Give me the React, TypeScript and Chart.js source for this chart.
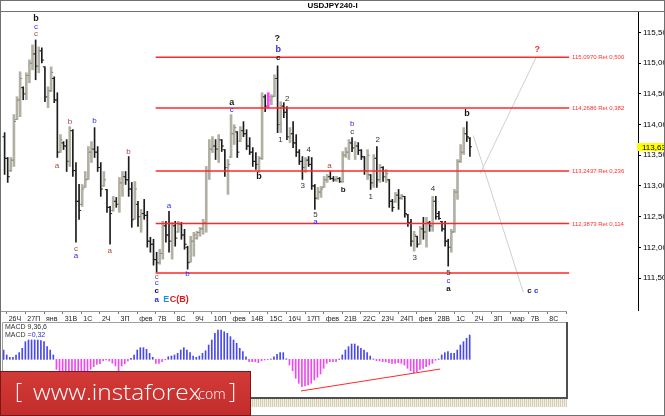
import React, { useEffect, useRef } from 'react';
import { Chart, registerables } from 'chart.js';
Chart.register(...registerables);

const FONT = '"Liberation Sans", "DejaVu Sans", Arial, sans-serif';

// ---- price bars (4h), one entry per bar index k ----
const highs = [
  113.868,113.463,113.463,114.161,114.453,114.859,114.615,114.843,115.054,115.297,
  115.378,115.265,115.248,114.940,114.615,114.940,114.778,114.518,113.836,113.722,
  113.755,113.966,113.917,113.381,113.024,113.024,113.235,113.641,113.722,113.950,
  113.641,113.381,113.235,112.943,112.667,112.830,112.813,113.138,113.235,113.235,
  113.479,113.057,113.073,112.748,112.618,112.781,112.586,112.164,112.131,111.920,
  111.969,112.424,112.424,112.586,112.407,112.424,112.424,112.407,112.294,112.018,
  112.180,112.245,112.261,112.326,112.456,113.317,113.755,113.803,113.755,113.836,
  113.755,113.592,113.430,114.161,113.998,113.885,113.966,114.047,113.917,113.787,
  113.625,113.544,113.479,114.518,114.485,114.518,114.485,114.810,114.956,114.372,
  114.356,114.291,113.950,114.047,113.836,113.592,113.479,113.463,113.479,113.463,
  113.024,112.976,112.992,113.154,113.187,113.235,113.154,113.154,113.138,113.560,
  113.625,113.755,113.787,113.722,113.706,113.592,113.479,113.592,113.187,113.511,
  113.641,113.349,113.317,113.268,113.105,112.781,112.894,112.943,112.862,112.830,
  112.537,112.456,112.261,112.180,112.342,112.489,112.489,112.424,112.830,112.830,
  112.586,112.424,112.424,112.131,112.294,112.943,113.430,113.674,113.950,114.047,
  113.787];
const lows = [
  113.187,113.057,113.235,113.317,114.080,114.128,114.404,114.404,114.680,114.891,
  114.729,114.843,115.005,114.372,114.274,114.534,114.356,113.463,113.544,113.592,
  113.235,113.317,113.154,112.083,112.456,112.667,112.976,113.105,113.381,113.463,
  113.235,112.830,112.992,112.570,112.050,112.586,112.651,112.570,112.830,113.024,
  112.830,112.326,112.456,112.342,112.245,112.456,112.002,111.920,111.709,111.596,
  111.725,111.807,112.083,111.920,111.807,112.018,112.245,112.131,111.969,111.644,
  111.758,111.855,112.131,112.180,112.213,112.245,113.105,113.544,113.430,113.381,
  113.560,113.154,112.862,113.463,113.674,113.463,113.722,113.803,113.592,113.511,
  113.317,113.268,113.219,113.430,114.209,114.274,114.323,114.453,113.868,113.868,
  114.112,113.755,113.706,113.625,113.479,113.349,113.105,113.219,113.317,112.943,
  112.618,112.781,112.813,112.976,113.057,113.105,113.073,113.073,113.057,113.057,
  113.463,113.430,113.560,113.430,113.511,113.430,113.187,113.105,112.943,112.976,
  112.976,113.057,113.073,113.057,112.651,112.586,112.732,112.618,112.781,112.489,
  112.342,112.018,111.937,112.002,112.050,112.131,112.002,112.261,112.261,112.456,
  112.456,112.261,112.018,111.693,111.920,112.245,112.781,113.381,113.511,113.722,
  113.479];
const opens = [
  113.80,113.45,113.25,113.42,114.08,114.40,114.60,114.50,114.80,115.00,
  115.15,114.95,115.20,114.94,114.45,114.55,114.75,114.40,113.55,113.70,
  113.65,113.40,113.90,113.25,112.75,112.70,112.98,113.11,113.55,113.60,
  113.55,113.30,113.00,112.94,112.65,112.60,112.75,112.70,113.05,113.15,
  113.10,112.95,112.46,112.70,112.50,112.55,112.52,112.10,112.05,111.80,
  111.75,111.90,112.35,112.20,112.10,112.35,112.25,112.38,112.20,112.00,
  111.76,112.10,112.15,112.24,112.30,112.40,113.25,113.60,113.65,113.60,
  113.75,113.59,113.30,113.47,113.85,113.88,113.73,113.90,113.85,113.65,
  113.55,113.40,113.35,113.45,114.45,114.30,114.40,114.46,114.75,114.00,
  114.30,114.20,113.80,113.85,113.70,113.55,113.40,113.30,113.42,113.35,
  113.00,112.80,112.90,112.98,113.10,113.15,113.12,113.10,113.12,113.07,
  113.50,113.55,113.70,113.62,113.65,113.58,113.47,113.25,113.18,113.05,
  113.45,113.10,113.30,113.15,113.10,112.75,112.74,112.85,112.80,112.83,
  112.53,112.40,112.10,112.18,112.05,112.30,112.25,112.40,112.35,112.75,
  112.55,112.42,112.30,112.10,112.00,112.25,112.90,113.40,113.55,113.85,
  113.78];
const closes = [
  113.45,113.15,113.42,114.05,114.40,114.75,114.50,114.80,115.00,115.15,
  114.95,115.20,115.05,114.45,114.55,114.85,114.40,113.55,113.75,113.65,
  113.40,113.90,113.25,112.75,112.60,112.95,113.10,113.55,113.60,113.55,
  113.30,112.95,113.10,112.65,112.55,112.75,112.70,113.05,113.15,113.10,
  112.95,112.45,112.95,112.50,112.55,112.52,112.10,112.05,111.80,111.75,
  111.90,112.35,112.20,112.10,112.35,112.15,112.38,112.20,112.05,111.75,
  112.10,112.20,112.24,112.30,112.40,113.25,113.60,113.65,113.60,113.75,
  113.65,113.30,113.35,113.85,113.95,113.55,113.90,113.85,113.65,113.55,
  113.40,113.35,113.45,114.45,114.30,114.45,114.45,114.75,114.00,114.30,
  114.20,113.80,113.85,113.70,113.55,113.40,113.30,113.42,113.35,113.00,
  112.80,112.90,112.95,113.10,113.15,113.12,113.10,113.12,113.07,113.50,
  113.55,113.70,113.62,113.65,113.58,113.48,113.25,113.50,113.05,113.45,
  113.10,113.30,113.15,113.20,112.75,112.65,112.85,112.80,112.83,112.55,
  112.40,112.10,112.20,112.05,112.30,112.25,112.40,112.35,112.75,112.50,
  112.47,112.30,112.10,112.00,112.25,112.90,113.40,113.55,113.85,113.80,
  113.638];
const highlightBar = 85;
const lastPrice = 113.638;

// ---- MACD histogram, one value per bar ----
const macdHist = [
  0.122,0.057,0.026,0.026,0.057,0.087,0.145,0.232,0.254,0.254,
  0.254,0.254,0.245,0.232,0.166,0.122,0.057,-0.132,-0.171,-0.211,
  -0.237,-0.263,-0.277,-0.277,-0.263,-0.237,-0.198,-0.171,-0.132,-0.097,
  -0.066,-0.058,-0.022,-0.009,-0.022,-0.051,-0.088,-0.158,-0.088,-0.058,
  -0.020,0.013,0.057,0.122,0.153,0.153,0.132,0.079,0.026,-0.053,
  -0.053,-0.032,-0.007,0.034,0.043,0.057,0.079,0.122,0.153,0.122,
  0.087,0.043,0.026,0.043,0.079,0.113,0.188,0.254,0.342,0.386,
  0.386,0.363,0.342,0.298,0.254,0.211,0.145,0.100,0.034,-0.032,
  -0.032,-0.032,-0.045,-0.018,-0.009,-0.004,0.004,0.034,0.066,0.087,
  0.087,0.007,-0.075,-0.150,-0.250,-0.316,-0.361,-0.349,-0.338,-0.316,
  -0.273,-0.237,-0.194,-0.119,-0.053,-0.032,-0.032,-0.032,0.004,0.057,
  0.122,0.166,0.201,0.201,0.175,0.145,0.122,0.087,0.043,0.004,
  -0.018,-0.022,-0.032,-0.032,-0.045,-0.053,-0.053,-0.045,-0.053,-0.075,
  -0.119,-0.150,-0.176,-0.163,-0.132,-0.119,-0.097,-0.075,-0.053,-0.013,
  0.004,0.057,0.087,0.100,0.079,0.079,0.122,0.188,0.232,0.277,
  0.320];
const macdTrend = [{ x: 95.7, y: -0.417 }, { x: 140.5, y: -0.128 }];

// ---- axes ----
const dayLabels = ['26Ч','27П','янв','31В','1С','2Ч','3П','фев','7В','8С','9Ч','10П','фев','14В','15С','16Ч','17П','фев','21В','22С','23Ч','24П','фев','28В','1С','2Ч','3П','мар','7В','8С'];
const priceTicks = [111.5, 112, 112.5, 113, 113.5, 114, 114.5, 115, 115.5];

// ---- Fibonacci retracement levels ----
const fibLevels = [115.097, 114.2686, 113.2437, 112.3873, 111.58];
const fibTexts = ['115,0970 Ret 0,500', '114,2686 Ret 0,382', '113,2437 Ret 0,236', '112,3873 Ret 0,114', ''];
const fibStartK = 48.7;
const fibEndK = 182.0;
const fibTextK = 182.9;

// ---- projected paths ----
const projDown = [{ x: 151.1, y: 113.82 }, { x: 167.2, y: 111.27 }];
const projUp = [{ x: 153.3, y: 113.2 }, { x: 171.4, y: 115.1 }];

// ---- wave labels: [k, price, text, color, size, bold, align] ----
const BLK = '#151515', BLU = '#2b2bff', BRN = '#a8463a', NUM = '#333333', RED = '#ff2a2a', CYAN = '#1c8fe0', CRED = '#e01818';
const waveLabels: [number, number, string, string, number, boolean, string][] = [
  [10.1, 115.719, 'b', BLK, 9, true, 'center'],
  [10.1, 115.594, 'c', BLU, 8, false, 'center'],
  [10.1, 115.471, 'c', BRN, 8, false, 'center'],
  [16.9, 113.333, 'a', BRN, 8, false, 'center'],
  [21.05, 114.047, 'b', BRN, 8, false, 'center'],
  [29.0, 114.063, 'b', BLU, 8, false, 'center'],
  [22.98, 111.969, 'c', BRN, 8, false, 'center'],
  [22.98, 111.856, 'a', BLU, 8, false, 'center'],
  [33.92, 111.937, 'a', BRN, 8, false, 'center'],
  [39.94, 113.560, 'b', BRN, 8, false, 'center'],
  [49.05, 111.519, 'c', BRN, 8, false, 'center'],
  [49.05, 111.417, 'c', BLU, 8, false, 'center'],
  [49.05, 111.292, 'c', BLK, 8, true, 'center'],
  [49.05, 111.146, 'a', BLU, 8, true, 'center'],
  [52.1, 111.146, 'E', CYAN, 9, true, 'center'],
  [53.2, 111.146, 'C(B)', CRED, 9, true, 'left'],
  [53.0, 112.672, 'a', BLU, 8, false, 'center'],
  [58.93, 111.563, 'b', BLU, 8, false, 'center'],
  [73.19, 114.356, 'a', BLK, 9, true, 'center'],
  [73.19, 114.242, 'c', BLU, 8, false, 'center'],
  [81.98, 113.154, 'b', BLK, 9, true, 'center'],
  [87.9, 115.406, '?', BLK, 9, true, 'center'],
  [88.22, 115.216, 'b', BLU, 9, true, 'center'],
  [88.22, 115.081, 'c', BLK, 8, true, 'center'],
  [91.12, 114.416, '2', NUM, 8, false, 'center'],
  [88.96, 113.755, '1', NUM, 8, false, 'center'],
  [96.14, 112.997, '3', NUM, 8, false, 'center'],
  [98.07, 113.584, '4', NUM, 8, false, 'center'],
  [100.2, 112.537, '5', NUM, 8, false, 'center'],
  [100.2, 112.412, 'a', BLU, 8, false, 'center'],
  [104.7, 113.333, 'a', BRN, 8, false, 'center'],
  [109.14, 112.943, 'b', BLK, 8, true, 'center'],
  [112.04, 114.015, 'b', BLU, 8, false, 'center'],
  [112.04, 113.880, 'c', NUM, 8, false, 'center'],
  [120.28, 113.744, '2', NUM, 8, false, 'center'],
  [118.02, 112.825, '1', NUM, 8, false, 'center'],
  [132.2, 111.823, '3', NUM, 8, false, 'center'],
  [138.1, 112.955, '4', NUM, 8, false, 'center'],
  [143.1, 111.580, '5', NUM, 8, false, 'center'],
  [143.1, 111.455, 'c', BLU, 8, false, 'center'],
  [143.1, 111.331, 'a', BLK, 8, true, 'center'],
  [149.05, 114.177, 'b', BLK, 9, true, 'center'],
  [171.7, 115.216, '?', RED, 9, true, 'center'],
  [169.2, 111.292, 'c', BLK, 8, true, 'center'],
  [171.35, 111.292, 'c', BLU, 8, true, 'center'],
];

// ---- scale ranges (bar index / price) ----
const XMIN = -0.84;
const XMAX_MAIN = 204.18;
const XMAX_SUB = 181.0;
const XMIN_MACD = -0.196;
const YMIN = 110.979;
const YMAX = 115.833;
const MACD_MIN = -0.4965;
const MACD_MAX = 0.478;

const UPC = '#b2b0a2';
const DNC = '#1c1c1c';
const PINK = '#ff40ff';
const FIBC = 'rgb(255,40,40)';

const fmtPrice = (v: number) => v.toFixed(3).replace('.', ',');

export default function App() {
  const mainRef = useRef<HTMLCanvasElement>(null);
  const axisRef = useRef<HTMLCanvasElement>(null);
  const macdRef = useRef<HTMLCanvasElement>(null);

  useEffect(() => {
    const upBars: any[] = [], downBars: any[] = [], pinkBars: any[] = [];
    const tickPts: any[] = [], tickCols: string[] = [];
    highs.forEach((h, i) => {
      const d = { x: i, y: [lows[i], h] };
      const up = closes[i] >= opens[i];
      let col = up ? '#8e8c80' : DNC;
      if (i === highlightBar) { pinkBars.push(d); col = PINK; }
      else if (up) upBars.push(d);
      else downBars.push(d);
      tickPts.push({ x: i - 0.36, y: opens[i] }, { x: i + 0.36, y: closes[i] });
      tickCols.push(col, col);
    });

    const mainDecor = {
      id: 'mainDecor',
      afterDatasetsDraw(chart: any) {
        const { ctx, scales: { x, y } } = chart;
        ctx.save();
        ctx.textBaseline = 'middle';
        ctx.font = `6px ${FONT}`;
        ctx.fillStyle = '#ff2f2f';
        ctx.textAlign = 'left';
        fibLevels.forEach((l, i) => {
          if (fibTexts[i]) ctx.fillText(fibTexts[i], x.getPixelForValue(fibTextK), y.getPixelForValue(l) + 0.5);
        });
        waveLabels.forEach(([k, v, t, c, sz, b, al]) => {
          ctx.font = `${b ? 'bold ' : ''}${sz}px ${FONT}`;
          ctx.fillStyle = c;
          ctx.textAlign = al as CanvasTextAlign;
          ctx.fillText(t, x.getPixelForValue(k), y.getPixelForValue(v));
        });
        ctx.restore();
      },
      afterDraw(chart: any) {
        const { ctx, scales: { y }, chartArea } = chart;
        const py = y.getPixelForValue(lastPrice);
        ctx.save();
        ctx.fillStyle = '#ffff00';
        ctx.fillRect(chartArea.right - 1, Math.round(py) - 4, 30, 8);
        ctx.fillStyle = '#000';
        ctx.font = `8px ${FONT}`;
        ctx.textBaseline = 'middle';
        ctx.textAlign = 'left';
        ctx.fillText(fmtPrice(lastPrice), chartArea.right + 4, Math.round(py) + 0.5);
        ctx.restore();
      },
    };

    const main = new Chart(mainRef.current!, {
      type: 'bar',
      data: {
        datasets: [
          ...fibLevels.map((l) => ({
            type: 'line' as const,
            data: [{ x: fibStartK, y: l }, { x: fibEndK, y: l }],
            borderColor: FIBC, backgroundColor: FIBC, borderWidth: 1.5, pointRadius: 0, order: -2,
          })),
          { type: 'line' as const, data: projDown, borderColor: '#cfcfcf', borderWidth: 1, pointRadius: 0, order: -1 },
          { type: 'line' as const, data: projUp, borderColor: '#cfcfcf', borderWidth: 1, pointRadius: 0, order: -1 },
          {
            type: 'scatter' as const, data: tickPts, pointStyle: 'line', pointRadius: 1, showLine: false,
            pointBorderWidth: 1, pointBorderColor: tickCols, pointBackgroundColor: tickCols, pointHoverRadius: 0, order: 1,
          },
          { type: 'bar' as const, data: pinkBars, backgroundColor: PINK, barThickness: 2, grouped: false, order: 2 },
          { type: 'bar' as const, data: downBars, backgroundColor: DNC, barThickness: 1, grouped: false, order: 3 },
          { type: 'bar' as const, data: upBars, backgroundColor: UPC, barThickness: 2, grouped: false, order: 4 },
        ] as any,
      },
      options: {
        responsive: false, animation: false, events: [],
        layout: { padding: { left: 1, top: 12, right: 0, bottom: 1 } },
        plugins: { legend: { display: false }, tooltip: { enabled: false } },
        scales: {
          x: { type: 'linear', min: XMIN, max: XMAX_MAIN, display: false, offset: false },
          y: {
            type: 'linear', position: 'right', min: YMIN, max: YMAX,
            afterBuildTicks: (s: any) => { s.ticks = priceTicks.map((v) => ({ value: v })); },
            afterFit: (s: any) => { s.width = 27; s.paddingTop = 0; s.paddingBottom = 0; },
            ticks: { callback: (v: any) => fmtPrice(Number(v)), font: { family: FONT, size: 8 }, color: '#000', padding: 2 },
            grid: { drawOnChartArea: false, tickLength: 3, color: '#000' },
            border: { color: '#000' },
          },
        },
      } as any,
      plugins: [mainDecor],
    });

    const axis = new Chart(axisRef.current!, {
      type: 'line',
      data: { datasets: [] },
      options: {
        responsive: false, animation: false, events: [],
        layout: { padding: { left: 1, right: 4, top: 10, bottom: 0 } },
        plugins: { legend: { display: false }, tooltip: { enabled: false } },
        scales: {
          x: {
            type: 'linear', position: 'bottom', min: XMIN, max: XMAX_SUB,
            afterBuildTicks: (s: any) => {
              s.ticks = [...dayLabels.map((_, i) => ({ value: 1 + 6 * i })), { value: XMAX_SUB }];
            },
            afterFit: (s: any) => { s.height = 11; s.paddingLeft = 0; s.paddingRight = 0; },
            ticks: {
              autoSkip: false, maxRotation: 0, minRotation: 0, align: 'start', labelOffset: 2, padding: 1,
              font: { family: FONT, size: 7 }, color: '#222',
              callback: (_v: any, i: number) => dayLabels[i] ?? '',
            },
            grid: { drawOnChartArea: false, tickLength: 3, color: '#777' },
            border: { color: '#999', dash: [1, 1] },
          },
          y: { display: false },
        },
      } as any,
    });

    const macdDecor = {
      id: 'macdDecor',
      afterDraw(chart: any) {
        const { ctx, chartArea: a } = chart;
        ctx.save();
        ctx.strokeStyle = '#a0a0a0';
        ctx.lineWidth = 1;
        ctx.beginPath();
        ctx.moveTo(a.left - 0.5, a.bottom); ctx.lineTo(a.left - 0.5, a.top - 0.5); ctx.lineTo(a.right, a.top - 0.5);
        ctx.stroke();
        ctx.strokeStyle = '#505050';
        ctx.lineWidth = 2;
        ctx.beginPath();
        ctx.moveTo(a.right + 1, a.top - 1); ctx.lineTo(a.right + 1, a.bottom + 1); ctx.lineTo(a.left - 1, a.bottom + 1);
        ctx.stroke();
        ctx.font = `7px ${FONT}`;
        ctx.textBaseline = 'middle';
        ctx.textAlign = 'left';
        ctx.fillStyle = '#333';
        ctx.fillText('MACD 9,36,6', a.left + 2, a.top + 4.5);
        ctx.fillText('MACD ', a.left + 2, a.top + 12);
        const w = ctx.measureText('MACD ').width;
        ctx.fillStyle = '#3030d0';
        ctx.fillText('=' + macdHist[macdHist.length - 1].toFixed(2).replace('.', ','), a.left + 2 + w, a.top + 12);
        ctx.restore();
      },
    };

    const macd = new Chart(macdRef.current!, {
      type: 'bar',
      data: {
        datasets: [
          { type: 'line' as const, data: macdTrend, borderColor: FIBC, borderWidth: 1, pointRadius: 0 },
          {
            type: 'bar' as const, data: macdHist.map((v, i) => ({ x: i, y: v })),
            backgroundColor: macdHist.map((v) => (v >= 0 ? '#4848f0' : '#f048f0')),
            barThickness: 1, grouped: false,
          },
        ] as any,
      },
      options: {
        responsive: false, animation: false, events: [],
        layout: { padding: { left: 3, right: 4, top: 1, bottom: 3 } },
        plugins: { legend: { display: false }, tooltip: { enabled: false } },
        scales: {
          x: { type: 'linear', min: XMIN_MACD, max: XMAX_SUB, display: false, offset: false },
          y: { type: 'linear', min: MACD_MIN, max: MACD_MAX, display: false },
        },
      } as any,
      plugins: [macdDecor],
    });

    return () => { main.destroy(); axis.destroy(); macd.destroy(); };
  }, []);

  return (
    <div style={{ position: 'fixed', left: 0, top: 0, width: 665, height: 416, background: '#fff', overflow: 'hidden' }}>
      <canvas ref={mainRef} width={665} height={312} style={{ position: 'absolute', left: 0, top: 0 }} />
      <canvas ref={axisRef} width={570} height={22} style={{ position: 'absolute', left: 0, top: 300 }} />
      <canvas ref={macdRef} width={570} height={78} style={{ position: 'absolute', left: 0, top: 322 }} />
      <div style={{
        position: 'absolute', left: 0, top: 399, width: 567, height: 8,
        background: 'repeating-linear-gradient(90deg, #d6ceb4 0px, #d6ceb4 1px, #f3efe2 1px, #f3efe2 2px)',
      }} />
      <div style={{
        position: 'absolute', left: 0, top: 2, width: 665, textAlign: 'center',
        font: `bold 8px ${FONT}`, lineHeight: '8px', color: '#000',
      }}>USDJPY240-I</div>
      <div style={{ position: 'absolute', left: 0, top: 11, width: 665, height: 1, background: '#707070' }} />
      <div style={{ position: 'absolute', left: 0, top: 0, width: 665, height: 416, border: '1px solid #707070', boxSizing: 'border-box' }} />
      <div style={{
        position: 'absolute', left: 0, top: 371, width: 251, height: 45, boxSizing: 'border-box',
        background: 'linear-gradient(#d23a37, #c22d2b)', border: '1px solid #7c1616',
        color: '#fff', fontFamily: '"Open Sans", "DejaVu Sans", sans-serif', fontWeight: 300, whiteSpace: 'nowrap',
      }}>
        <span style={{ position: 'absolute', left: 14, top: 3, fontSize: 22, lineHeight: 'normal' }}>[</span>
        <span style={{
          position: 'absolute', left: 32, top: 4, fontSize: 22, lineHeight: 'normal',
          transform: 'scaleX(1.11)', transformOrigin: '0 0', display: 'inline-block',
        }}>www.instaforex</span>
        <span style={{ position: 'absolute', left: 194, top: 12, fontSize: 14, lineHeight: 'normal' }}>.com</span>
        <span style={{ position: 'absolute', left: 228, top: 3, fontSize: 22, lineHeight: 'normal' }}>]</span>
      </div>
    </div>
  );
}
